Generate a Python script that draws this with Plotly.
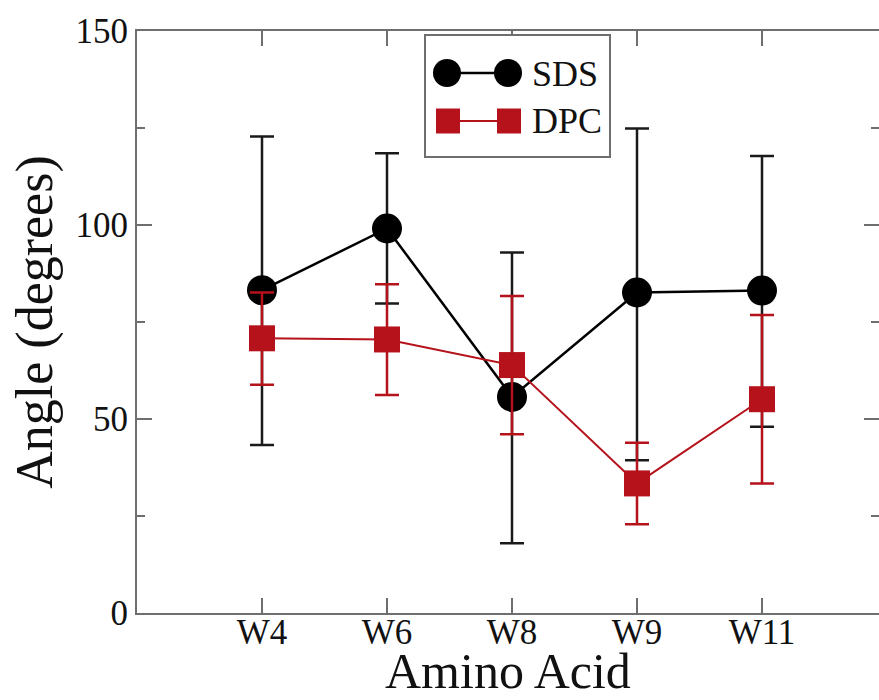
import plotly.graph_objects as go

categories = ["W4", "W6", "W8", "W9", "W11"]
sds_values = [83.2, 99.1, 55.7, 82.6, 83.1]
sds_err_plus = [39.6, 19.4, 37.2, 42.3, 34.7]
sds_err_minus = [39.9, 19.3, 37.7, 43.2, 35.1]
dpc_values = [70.8, 70.5, 63.9, 33.4, 55.1]
dpc_err_plus = [11.8, 14.2, 17.8, 10.5, 21.7]
dpc_err_minus = [12.0, 14.3, 17.8, 10.5, 21.7]
y_ticks = [0, 50, 100, 150]

BLACK = "#000000"
RED = "#B5121B"
AXIS = "#6e6e6e"
FONT = "Liberation Serif"

W, H = 879, 700
ML, MT, MB, MR = 137, 31, 87, 0

fig = go.Figure()
fig.add_trace(go.Scatter(
    x=categories, y=sds_values, mode="lines+markers", name="SDS",
    line=dict(color=BLACK, width=2.5),
    marker=dict(symbol="circle", size=30, color=BLACK),
    error_y=dict(type="data", symmetric=False, array=sds_err_plus,
                 arrayminus=sds_err_minus, color="#1a1a1a", thickness=2.5, width=12),
    showlegend=False,
))
fig.add_trace(go.Scatter(
    x=categories, y=dpc_values, mode="lines+markers", name="DPC",
    line=dict(color=RED, width=2),
    marker=dict(symbol="square", size=26, color=RED),
    error_y=dict(type="data", symmetric=False, array=dpc_err_plus,
                 arrayminus=dpc_err_minus, color=RED, thickness=2.5, width=12),
    showlegend=False,
))

# custom legend (pixel units relative to plot top-left)
def pshape(kind, x0, y0, x1, y1, **kw):
    return dict(type=kind, xref="paper", yref="paper", xsizemode="pixel",
                ysizemode="pixel", xanchor=0, yanchor=1,
                x0=x0 - ML, x1=x1 - ML, y0=-(y0 - MT), y1=-(y1 - MT), **kw)

shapes = [
    pshape("rect", 425, 35, 610, 157, line=dict(color=AXIS, width=2), fillcolor="white", layer="above"),
    pshape("line", 447, 73, 508, 73, line=dict(color=BLACK, width=2.5), layer="above"),
    pshape("circle", 433, 59, 461, 87, line=dict(color=BLACK, width=0), fillcolor=BLACK, layer="above"),
    pshape("circle", 494, 59, 522, 87, line=dict(color=BLACK, width=0), fillcolor=BLACK, layer="above"),
    pshape("line", 448, 121, 509, 121, line=dict(color=RED, width=2), layer="above"),
    pshape("rect", 436, 108.5, 460, 133.5, line=dict(color=RED, width=0), fillcolor=RED, layer="above"),
    pshape("rect", 497, 108.5, 521, 133.5, line=dict(color=RED, width=0), fillcolor=RED, layer="above"),
]
plot_w = W - ML - MR
plot_h = H - MT - MB
def px(x):
    return (x - ML) / plot_w
def py(y):
    return (H - MB - y) / plot_h

annotations = [
    dict(x=px(530), y=py(74), xref="paper", yref="paper", text="SDS", showarrow=False,
         xanchor="left", yanchor="middle", font=dict(family=FONT, size=36, color="#111")),
    dict(x=px(530), y=py(121), xref="paper", yref="paper", text="DPC", showarrow=False,
         xanchor="left", yanchor="middle", font=dict(family=FONT, size=36, color="#111")),
    dict(x=0.5, y=py(690), xref="paper", yref="paper", text="Amino Acid", showarrow=False,
         xanchor="center", yanchor="bottom", yshift=-11,
         font=dict(family=FONT, size=50, color="#111")),
]

fig.update_layout(
    width=W, height=H,
    margin=dict(l=ML, r=MR, t=MT, b=MB, autoexpand=False),
    paper_bgcolor="white", plot_bgcolor="white",
    font=dict(family=FONT, color="#111"),
    shapes=shapes, annotations=annotations,
    showlegend=False,
)
fig.update_xaxes(
    type="category", categoryorder="array", categoryarray=categories,
    range=[-1, -1 + plot_w / 125.0],
    showgrid=False, zeroline=False,
    showline=True, linecolor=AXIS, linewidth=2, mirror="ticks",
    ticks="inside", ticklen=15, tickwidth=2, tickcolor=AXIS,
    ticklabelstandoff=-13,
    tickfont=dict(family=FONT, size=35, color="#111"),
    automargin=False,
)
fig.update_yaxes(
    range=[0, 150], tickvals=y_ticks,
    showgrid=False, zeroline=False,
    showline=True, linecolor=AXIS, linewidth=2, mirror="ticks",
    ticks="inside", ticklen=15, tickwidth=2, tickcolor=AXIS,
    minor=dict(dtick=25, ticks="inside", ticklen=8, tickwidth=2, tickcolor=AXIS, showgrid=False),
    tickfont=dict(family=FONT, size=35, color="#111"),
    title=dict(text="Angle (degrees)", font=dict(family=FONT, size=52, color="#111"), standoff=6),
    automargin=False,
)

fig.write_html("out.html")
